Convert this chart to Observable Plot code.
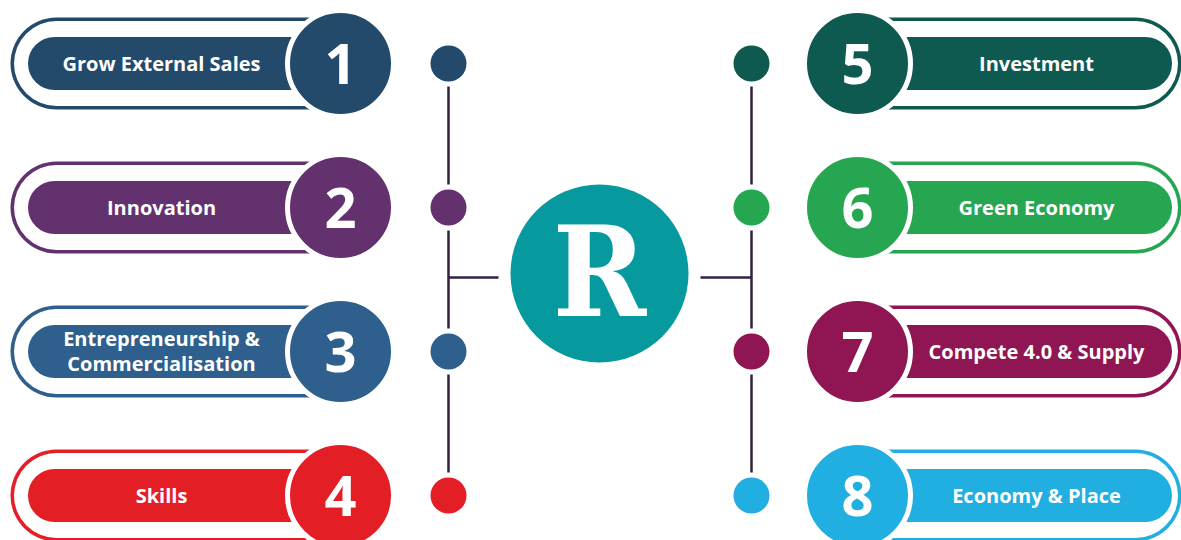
<!DOCTYPE html>
<html>
<head>
<meta charset="utf-8">
<script src="https://cdn.jsdelivr.net/npm/d3@7"></script>
<script src="https://cdn.jsdelivr.net/npm/@observablehq/plot@0.6"></script>
<style>
  html, body { margin: 0; padding: 0; background: #ffffff; }
  #chart svg { display: block; }
  #chart g[font-family*="DejaVu Serif"] { font-stretch: condensed; }
</style>
</head>
<body>
<div id="chart"></div>
<script>
// ---- Data ----
const leftLabels = ["Grow External Sales", "Innovation", "Entrepreneurship &\nCommercialisation", "Skills"];
const rightLabels = ["Investment", "Green Economy", "Compete 4.0 & Supply", "Economy & Place"];
const leftNumbers = ["1", "2", "3", "4"];
const rightNumbers = ["5", "6", "7", "8"];
const leftColors = ["#234a6b", "#63326e", "#2f5f8c", "#e31e24"];
const rightColors = ["#0e5a50", "#27a651", "#8f1652", "#21aee0"];
const hubLabel = "R";
const hubColor = "#069a9f";
const lineColor = "#35223f";

// ---- Layout (derived from row index) ----
const W = 1181, H = 540;
const rowY = i => 63 + i * 144;
const hub = {x: 599, y: 273};
const L = {pillOuter: [56, 330], pillInner: [54, 330], num: 340, text: 161, dot: 448};
const R = {pillOuter: [872, 1135], pillInner: [872, 1145], num: 857, text: 1036, dot: 751};

const items = [
  ...leftLabels.map((label, i) => ({side: "L", i, label, num: leftNumbers[i], color: leftColors[i], y: rowY(i)})),
  ...rightLabels.map((label, i) => ({side: "R", i, label, num: rightNumbers[i], color: rightColors[i], y: rowY(i)}))
];
const geo = d => d.side === "L" ? L : R;

// connector segments between dots
const segs = [];
for (const side of [L, R]) {
  for (let i = 0; i < 3; i++) segs.push({x1: side.dot, x2: side.dot, y1: rowY(i) + 23, y2: rowY(i + 1) - 23});
}
segs.push({x1: L.dot, x2: 498, y1: 277, y2: 277});
segs.push({x1: 700, x2: R.dot, y1: 277, y2: 277});

const font = "'Open Sans', 'Noto Sans', sans-serif";

const chart = Plot.plot({
  width: W,
  height: H,
  margin: 0,
  x: {domain: [0, W], range: [0, W], axis: null},
  y: {domain: [0, H], range: [0, H], axis: null},
  style: {background: "#ffffff"},
  marks: [
    Plot.link(segs, {x1: "x1", x2: "x2", y1: "y1", y2: "y2", stroke: lineColor, strokeWidth: 2.5}),
    // outer outline pill
    Plot.link(items, {x1: d => geo(d).pillOuter[0], x2: d => geo(d).pillOuter[1], y1: "y", y2: "y",
      stroke: "color", strokeWidth: 92, strokeLinecap: "round"}),
    Plot.link(items, {x1: d => geo(d).pillOuter[0], x2: d => geo(d).pillOuter[1], y1: "y", y2: "y",
      stroke: "#ffffff", strokeWidth: 85, strokeLinecap: "round"}),
    // inner filled pill
    Plot.link(items, {x1: d => geo(d).pillInner[0], x2: d => geo(d).pillInner[1], y1: "y", y2: "y",
      stroke: "color", strokeWidth: 53, strokeLinecap: "round"}),
    // number circles
    Plot.dot(items, {x: d => geo(d).num, y: "y", r: 53, fill: "color", stroke: "#ffffff", strokeWidth: 5}),
    // small dots
    Plot.dot(items, {x: d => geo(d).dot, y: "y", r: 18, fill: "color"}),
    // hub
    Plot.dot([hub], {x: "x", y: "y", r: 89, fill: hubColor}),
    Plot.text([hubLabel], {x: hub.x, y: hub.y + 2, text: d => d, fill: "#ffffff", fontSize: 125,
      fontWeight: "bold", fontFamily: "'DejaVu Serif', serif", lineAnchor: "middle", textAnchor: "middle"}),
    // labels
    Plot.text(items, {x: d => geo(d).text, y: d => d.y - 1, text: "label", fill: "#ffffff", fontSize: 20,
      fontWeight: 700, fontFamily: font, lineAnchor: "middle", textAnchor: "middle", lineHeight: 1.26}),
    // numbers
    Plot.text(items, {x: d => geo(d).num, y: d => d.y + 3, text: "num", fill: "#ffffff", fontSize: 56,
      fontWeight: 700, fontFamily: font, lineAnchor: "middle", textAnchor: "middle"})
  ]
});
document.getElementById("chart").append(chart);
</script>
</body>
</html>
